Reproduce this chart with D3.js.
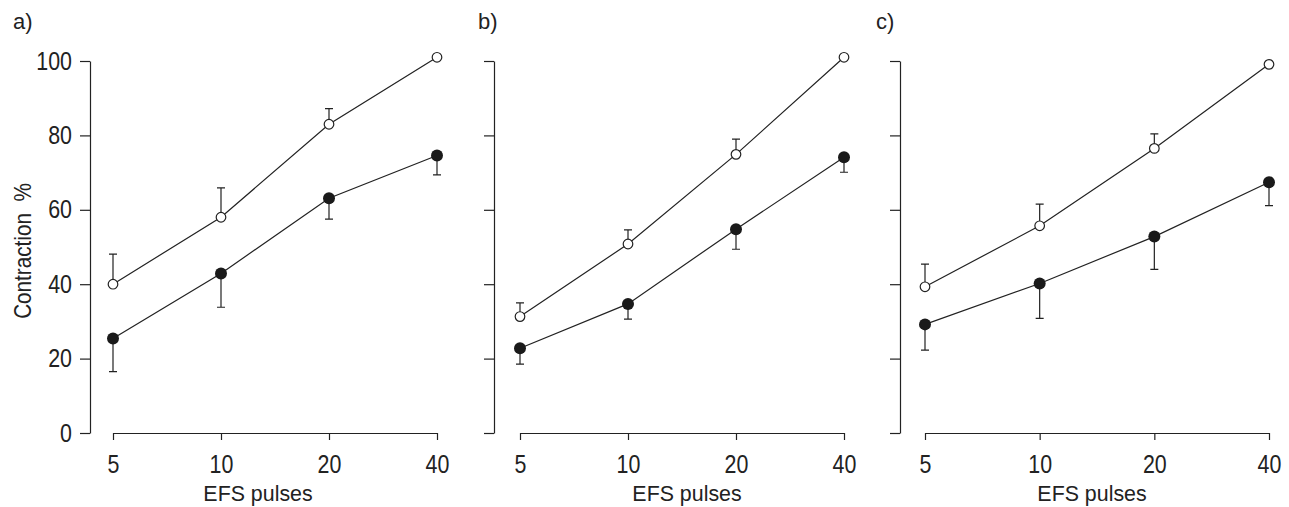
<!DOCTYPE html>
<html>
<head>
<meta charset="utf-8">
<script src="https://cdn.jsdelivr.net/npm/d3@7"></script>
<style>
  html, body { margin: 0; padding: 0; background: #fff; }
  svg { display: block; }
  text { font-family: "Liberation Sans", Arial, sans-serif; fill: #222; }
  .domain, .tick line { stroke: #222; stroke-width: 1.2; }
</style>
</head>
<body>
<svg id="chart" width="1289" height="507"></svg>
<script>
// EFS pulse response, three panels, open = control, filled = treated
const pulses = [5, 10, 20, 40];
const yTicks = [0, 20, 40, 60, 80, 100];
const panelLabels = ["a)", "b)", "c)"];

const openMean = [
  [40, 58, 83, 101],
  [31.3, 50.8, 74.9, 101],
  [39.3, 55.7, 76.5, 99.1]
];
const openErr = [
  [8.1, 7.9, 4.2, 0],
  [3.7, 3.8, 4.1, 0],
  [6.1, 5.8, 3.9, 0]
];
const filledMean = [
  [25.4, 42.9, 63.1, 74.6],
  [22.8, 34.7, 54.8, 74.1],
  [29.2, 40.2, 52.8, 67.4]
];
const filledErr = [
  [8.9, 9.1, 5.6, 5.2],
  [4.3, 4.1, 5.4, 4.0],
  [6.9, 9.4, 8.8, 6.3]
];

const svg = d3.select("#chart");

// layout of each panel: y axis position and x range
const layout = [
  { axisX: 90, x0: 113, x1: 437, tag: 13, title: 258 },
  { axisX: 494, x0: 520, x1: 844, tag: 478, title: 687 },
  { axisX: 900, x0: 925, x1: 1269, tag: 876, title: 1092 }
];
const yTop = 61, yBottom = 433;
const tickSx = 0.84;   // the original font is condensed
const titleSx = 0.93;

layout.forEach((L, i) => {
  const x = d3.scaleLog().domain([5, 40]).range([L.x0, L.x1]);
  const y = d3.scaleLinear().domain([0, 100]).range([yBottom, yTop]);
  const g = svg.append("g");

  const yAxis = d3.axisLeft(y).tickValues(yTicks).tickSize(10).tickPadding(8).tickSizeOuter(0);
  if (i > 0) yAxis.tickFormat("");
  const ya = g.append("g")
    .attr("transform", `translate(${L.axisX},0)`)
    .call(yAxis);
  ya.selectAll(".tick text")
    .attr("font-size", 25.5)
    .attr("x", -18 / tickSx)
    .attr("transform", `scale(${tickSx},1)`);

  const xa = g.append("g")
    .attr("transform", `translate(0,${yBottom})`)
    .call(d3.axisBottom(x).tickValues(pulses).tickFormat(d3.format("d")).tickSize(7).tickSizeOuter(0));
  xa.selectAll(".tick text")
    .attr("font-size", 25.5)
    .attr("dy", "1.18em")
    .attr("transform", `scale(${tickSx},1)`);

  g.append("text")
    .attr("x", L.tag).attr("y", 29)
    .attr("font-size", 22)
    .text(panelLabels[i]);

  g.append("text")
    .attr("transform", `translate(${L.title},501) scale(${titleSx},1)`)
    .attr("text-anchor", "middle")
    .attr("font-size", 23)
    .text("EFS pulses");

  const line = d3.line().x((d, k) => x(pulses[k])).y(d => y(d));

  // error bars: open goes up, filled goes down
  const bars = (means, errs, dir) => {
    const data = means.map((m, k) => ({ p: pulses[k], m, e: errs[k] })).filter(d => d.e > 0);
    g.append("g").selectAll("path")
      .data(data)
      .join("path")
      .attr("d", d => {
        const px = x(d.p), y0 = y(d.m), y1 = y(d.m + dir * d.e);
        return `M${px},${y0}V${y1}M${px - 4},${y1}H${px + 4}`;
      })
      .attr("fill", "none")
      .attr("stroke", "#222")
      .attr("stroke-width", 1.2);
  };
  bars(openMean[i], openErr[i], 1);
  bars(filledMean[i], filledErr[i], -1);

  g.append("path").datum(openMean[i])
    .attr("d", line).attr("fill", "none").attr("stroke", "#222").attr("stroke-width", 1.2);
  g.append("path").datum(filledMean[i])
    .attr("d", line).attr("fill", "none").attr("stroke", "#222").attr("stroke-width", 1.2);

  g.append("g").selectAll("circle")
    .data(openMean[i])
    .join("circle")
    .attr("cx", (d, k) => x(pulses[k]))
    .attr("cy", d => y(d))
    .attr("r", 4.8)
    .attr("fill", "#fff")
    .attr("stroke", "#222")
    .attr("stroke-width", 1.2);

  g.append("g").selectAll("circle")
    .data(filledMean[i])
    .join("circle")
    .attr("cx", (d, k) => x(pulses[k]))
    .attr("cy", d => y(d))
    .attr("r", 6)
    .attr("fill", "#1a1a1a");

  if (i === 0) {
    g.append("text")
      .attr("transform", `translate(31,251) rotate(-90) scale(0.9,1)`)
      .attr("text-anchor", "middle")
      .attr("font-size", 23)
      .attr("xml:space", "preserve")
      .text("Contraction  %");
  }
});
</script>
</body>
</html>
